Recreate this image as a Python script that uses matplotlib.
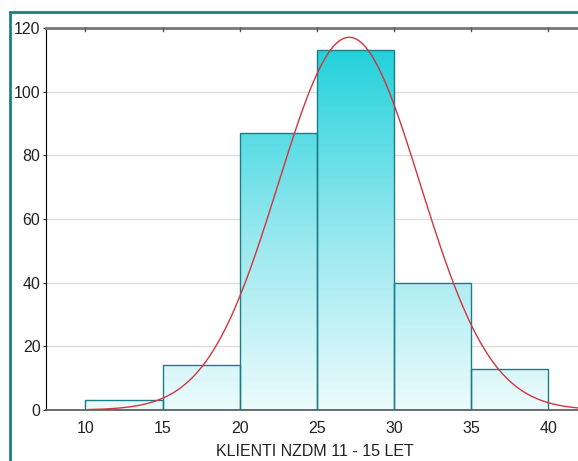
import numpy as np
import matplotlib
matplotlib.use('Agg')
import matplotlib.pyplot as plt
from matplotlib.colors import LinearSegmentedColormap
from matplotlib.patches import Rectangle

plt.rcParams['font.family'] = ['Liberation Sans', 'DejaVu Sans']

# histogram bins and counts
BIN_EDGES = [10, 15, 20, 25, 30, 35, 40]
COUNTS = [3, 14, 87, 113, 40, 13]
# fitted normal curve parameters
MEAN = 27.1
SD = 4.6
XTICKS = [10, 15, 20, 25, 30, 35, 40]
YTICKS = [0, 20, 40, 60, 80, 100, 120]
XLABEL = 'KLIENTI NZDM 11 - 15 LET'

fig = plt.figure(figsize=(5.78, 4.61), dpi=100)
ax = fig.add_axes([46/578, 51/461, 1 - 46/578 + 0.01, (410-28)/461])

cmap = LinearSegmentedColormap.from_list('cy', ['#ecfbfc', '#92e7ee', '#1dd0da'])
grad = np.linspace(0, 1, 256).reshape(-1, 1)

for i, c in enumerate(COUNTS):
    x0 = BIN_EDGES[i]
    w = BIN_EDGES[i+1] - x0
    rect = Rectangle((x0, 0), w, c, facecolor='none', edgecolor='#1b7d86',
                     linewidth=1.0, zorder=3)
    ax.add_patch(rect)
    im = ax.imshow(grad, cmap=cmap, origin='lower', aspect='auto',
                   extent=(x0, x0 + w, 0, 116), zorder=2)
    im.set_clip_path(rect)

total = sum(COUNTS)
width = BIN_EDGES[1] - BIN_EDGES[0]
xs = np.linspace(10.2, 43, 300)
ys = total * width / (SD * np.sqrt(2 * np.pi)) * np.exp(-0.5 * ((xs - MEAN) / SD) ** 2)
ax.plot(xs, ys, color='#d4343c', linewidth=1.0, zorder=4)

ax.set_xlim(7.45, 42.3)
ax.set_ylim(0, 120)
ax.set_xticks(XTICKS)
ax.set_yticks(YTICKS)
ax.tick_params(axis='both', labelsize=11.5, colors='#222222', length=2)
ax.tick_params(axis='x', length=0, pad=8)
ax.tick_params(axis='y', pad=2)
ax.yaxis.grid(True, color='#dddddd', linewidth=1.0, zorder=0)
ax.set_axisbelow(True)
ax.spines['left'].set_color('black')
ax.spines['bottom'].set_color('#555555')
ax.spines['bottom'].set_linewidth(1.2)
ax.spines['top'].set_color('#777777')
ax.spines['top'].set_linewidth(2.0)
ax.spines['right'].set_visible(False)
for xt in XTICKS:
    ax.plot([xt, xt], [120, 119], color='#555555', linewidth=1, clip_on=False, zorder=5)
ax.set_xlabel(XLABEL, fontsize=11.5, color='#222222', labelpad=6)

# outer teal frame
frame = Rectangle((10/578, -0.05), 1.0, (461-12)/461 + 0.05, transform=fig.transFigure,
                  fill=False, edgecolor='#1c7f82', linewidth=2.0)
fig.patches.append(frame)

fig.savefig('out.png', dpi=100)
